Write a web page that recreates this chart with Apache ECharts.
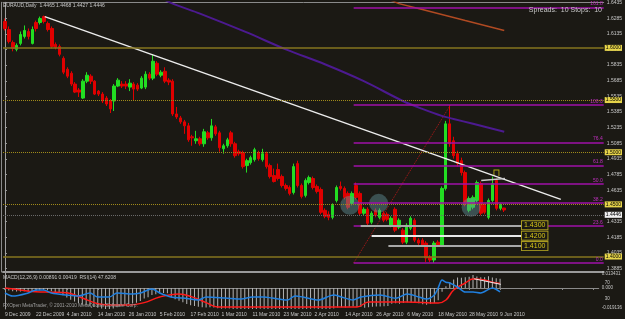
<!DOCTYPE html>
<html>
<head>
<meta charset="utf-8">
<script src="https://cdn.jsdelivr.net/npm/echarts@6/dist/echarts.min.js"></script>
<style>
html,body{margin:0;padding:0;background:#1b1914;}
#chart{width:625px;height:319px;}
</style>
</head>
<body>
<div id="chart"></div>
<script>
var chart = echarts.init(document.getElementById('chart'));

// daily bars EURAUD, [open, close, low, high]
var candles = [
[1.6253,1.6186,1.6167,1.6281],[1.6176,1.6062,1.6043,1.6205],[1.6052,1.5995,1.5967,1.6071],[1.5986,1.6024,1.5967,1.6043],
[1.6043,1.6128,1.6024,1.6157],[1.6110,1.6167,1.6090,1.6215],[1.6157,1.6110,1.6081,1.6186],[1.6043,1.6176,1.6033,1.6205],
[1.6243,1.6186,1.6157,1.6262],[1.6243,1.6281,1.6224,1.6300],[1.6300,1.6253,1.6234,1.6310],[1.6234,1.6176,1.6157,1.6253],
[1.6186,1.6014,1.5995,1.6205],[1.6033,1.6005,1.5986,1.6052],[1.6014,1.5938,1.5919,1.6033],[1.5900,1.5767,1.5748,1.5919],
[1.5795,1.5729,1.5710,1.5814],[1.5757,1.5653,1.5634,1.5776],[1.5653,1.5576,1.5567,1.5672],[1.5596,1.5576,1.5529,1.5615],
[1.5519,1.5681,1.5510,1.5700],[1.5681,1.5738,1.5662,1.5767],[1.5729,1.5681,1.5653,1.5748],[1.5681,1.5557,1.5548,1.5691],
[1.5586,1.5557,1.5538,1.5596],[1.5557,1.5491,1.5472,1.5576],[1.5519,1.5462,1.5443,1.5538],[1.5491,1.5415,1.5376,1.5510],
[1.5491,1.5634,1.5395,1.5653],[1.5634,1.5691,1.5624,1.5710],[1.5653,1.5634,1.5615,1.5681],[1.5653,1.5634,1.5605,1.5681],
[1.5624,1.5662,1.5586,1.5700],[1.5653,1.5605,1.5500,1.5672],[1.5643,1.5605,1.5586,1.5662],[1.5615,1.5710,1.5605,1.5729],
[1.5624,1.5748,1.5605,1.5776],[1.5748,1.5710,1.5691,1.5767],[1.5710,1.5872,1.5691,1.5938],[1.5853,1.5748,1.5729,1.5872],
[1.5738,1.5767,1.5719,1.5786],[1.5776,1.5681,1.5662,1.5814],[1.5691,1.5672,1.5643,1.5710],[1.5681,1.5367,1.5348,1.5700],
[1.5367,1.5338,1.5319,1.5434],[1.5329,1.5291,1.5272,1.5348],[1.5291,1.5253,1.5176,1.5310],[1.5253,1.5119,1.5100,1.5281],
[1.5148,1.5138,1.5062,1.5167],[1.5110,1.5129,1.5081,1.5205],[1.5129,1.5081,1.5062,1.5148],[1.5081,1.5196,1.5052,1.5224],
[1.5186,1.5138,1.5119,1.5205],[1.5138,1.5253,1.5110,1.5319],[1.5243,1.5176,1.5157,1.5262],[1.5186,1.5043,1.5005,1.5205],
[1.5033,1.5062,1.4986,1.5081],[1.5062,1.5119,1.5043,1.5138],[1.5186,1.5081,1.5052,1.5205],[1.5081,1.4967,1.4948,1.5100],
[1.5005,1.4986,1.4967,1.5024],[1.4995,1.4862,1.4843,1.5014],[1.4872,1.4919,1.4805,1.4938],[1.4900,1.4948,1.4881,1.4967],
[1.4929,1.5024,1.4910,1.5043],[1.4995,1.4938,1.4919,1.5014],[1.4929,1.4986,1.4910,1.5033],[1.4986,1.4862,1.4843,1.5005],
[1.4872,1.4767,1.4748,1.4891],[1.4776,1.4719,1.4710,1.4843],[1.4834,1.4748,1.4729,1.4891],[1.4767,1.4681,1.4662,1.4786],
[1.4681,1.4653,1.4633,1.4700],[1.4662,1.4605,1.4586,1.4681],[1.4614,1.4862,1.4595,1.4891],[1.4891,1.4681,1.4662,1.4919],
[1.4681,1.4576,1.4557,1.4700],[1.4586,1.4729,1.4567,1.4748],[1.4710,1.4757,1.4691,1.4776],[1.4748,1.4662,1.4643,1.4767],
[1.4672,1.4624,1.4605,1.4691],[1.4643,1.4424,1.4405,1.4662],[1.4443,1.4386,1.4367,1.4462],[1.4405,1.4376,1.4348,1.4434],
[1.4376,1.4491,1.4357,1.4510],[1.4538,1.4662,1.4519,1.4681],[1.4672,1.4653,1.4633,1.4719],[1.4653,1.4567,1.4548,1.4672],
[1.4605,1.4472,1.4453,1.4624],[1.4510,1.4605,1.4491,1.4624],[1.4681,1.4567,1.4548,1.4710],[1.4605,1.4415,1.4395,1.4624],
[1.4415,1.4453,1.4395,1.4472],[1.4453,1.4319,1.4300,1.4472],[1.4329,1.4415,1.4310,1.4434],[1.4443,1.4395,1.4376,1.4462],
[1.4376,1.4443,1.4357,1.4462],[1.4415,1.4348,1.4329,1.4434],[1.4405,1.4357,1.4338,1.4424],[1.4300,1.4367,1.4281,1.4386],
[1.4453,1.4253,1.4234,1.4472],[1.4281,1.4348,1.4262,1.4367],[1.4253,1.4138,1.4119,1.4272],[1.4138,1.4300,1.4119,1.4319],
[1.4272,1.4367,1.4253,1.4386],[1.4348,1.4157,1.4138,1.4367],[1.4157,1.4129,1.4110,1.4176],[1.4157,1.4110,1.4091,1.4176],
[1.4129,1.3986,1.3948,1.4148],[1.3995,1.3967,1.3948,1.4014],[1.3967,1.4129,1.3938,1.4148],[1.4138,1.4110,1.4091,1.4157],
[1.4110,1.4653,1.4091,1.4672],[1.4653,1.5272,1.4633,1.5300],[1.5272,1.5081,1.5052,1.5453],[1.5110,1.4967,1.4938,1.5148],
[1.4986,1.4891,1.4862,1.5014],[1.4919,1.4805,1.4776,1.4948],[1.4805,1.4510,1.4481,1.4824],[1.4443,1.4557,1.4424,1.4576],
[1.4472,1.4567,1.4453,1.4586],[1.4538,1.4710,1.4519,1.4729],[1.4700,1.4415,1.4395,1.4719],[1.4491,1.4424,1.4405,1.4510],
[1.4376,1.4538,1.4357,1.4557],[1.4538,1.4700,1.4519,1.4767],[1.4729,1.4462,1.4443,1.4748],[1.4462,1.4491,1.4443,1.4510],
[1.4465,1.4446,1.4427,1.4468]
];

// MACD(12,26,9) main, one per bar
var macdMain = [
-0.0020,-0.0024,-0.0030,-0.0034,-0.0034,-0.0032,-0.0032,-0.0030,-0.0026,-0.0022,
-0.0020,-0.0022,-0.0030,-0.0038,-0.0048,-0.0070,-0.0092,-0.0112,-0.0130,-0.0146,
-0.0160,-0.0166,-0.0172,-0.0182,-0.0190,-0.0196,-0.0200,-0.0206,-0.0196,-0.0184,
-0.0174,-0.0166,-0.0156,-0.0148,-0.0140,-0.0124,-0.0100,-0.0088,-0.0068,-0.0060,
-0.0052,-0.0048,-0.0050,-0.0092,-0.0108,-0.0122,-0.0136,-0.0152,-0.0164,-0.0172,
-0.0180,-0.0184,-0.0186,-0.0184,-0.0186,-0.0194,-0.0198,-0.0196,-0.0196,-0.0204,
-0.0208,-0.0212,-0.0212,-0.0210,-0.0204,-0.0202,-0.0198,-0.0204,-0.0212,-0.0218,
-0.0220,-0.0222,-0.0226,-0.0228,-0.0216,-0.0214,-0.0216,-0.0208,-0.0200,-0.0198,
-0.0196,-0.0206,-0.0212,-0.0216,-0.0208,-0.0196,-0.0186,-0.0184,-0.0186,-0.0180,
-0.0176,-0.0182,-0.0182,-0.0188,-0.0184,-0.0180,-0.0176,-0.0176,-0.0174,-0.0172,
-0.0150,-0.0146,-0.0150,-0.0144,-0.0136,-0.0140,-0.0144,-0.0146,-0.0156,-0.0160,
-0.0150,-0.0144,-0.0118,-0.0036,0.0016,0.0056,0.0082,0.0100,0.0098,0.0102,
0.0108,0.0124,0.0110,0.0102,0.0104,0.0112,0.0100,0.0094,0.0089
];

// signal line and RSI read at [bar, value]
var signalPts = [[0,0.0000],[4,-0.0019],[8,-0.0036],[12,-0.0040],[16,-0.0045],[20,-0.0096],[24,-0.0150],
  [28,-0.0163],[32,-0.0163],[36,-0.0140],[40,-0.0086],[45,-0.0057],[48,-0.0080],[52,-0.0140],[55,-0.0182],
  [91,-0.0182],[94,-0.0134],[104,-0.0134],[112,-0.0144],[114,-0.0115],[116,-0.0019],[119,0.0048],
  [121,0.0086],[124,0.0077],[126,0.0055],[128,0.0042]];
var rsiPts = [[0,45],[2,37.5],[6,45],[8,52.5],[10,52.5],[12,45],[16,40],[19,37.5],[22,45],[24,35],[27,35],
  [29,45],[33,42.5],[35,45],[38,55],[40,45],[43,35],[46,32.5],[50,27.5],[52,35],[57,32.5],[61,30],[64,35],
  [67,35],[69,32.5],[73,27.5],[75,37.5],[77,35],[81,27.5],[85,40],[87,35],[90,27.5],[92,35],[97,40],
  [101,32],[104,42.5],[107,35],[109,30],[111,40],[112,58],[113,77.5],[114,72],[115,70],[117,60],[119,47.5],
  [121,47.5],[123,45],[126,57.5],[128,47.6]];

var dateLabels = ['9 Dec 2009','22 Dec 2009','4 Jan 2010','14 Jan 2010','26 Jan 2010','5 Feb 2010',
  '17 Feb 2010','1 Mar 2010','11 Mar 2010','23 Mar 2010','2 Apr 2010','14 Apr 2010','26 Apr 2010',
  '6 May 2010','18 May 2010','28 May 2010','9 Jun 2010'];
var priceTicks = [1.3885,1.4035,1.4185,1.4335,1.4485,1.4635,1.4785,1.4935,1.5085,1.5235,1.5385,
  1.5535,1.5685,1.5835,1.5985,1.6135,1.6285,1.6435];

// chart objects
var trendLine = [[10.2,1.6300],[142.5,1.4548]];
var maSlow = [[40,1.6481],[43,1.6424],[50,1.6329],[62,1.6148],[72,1.5986],[82,1.5843],[92,1.5681],
  [102,1.5491],[107,1.5415],[112,1.5348],[115,1.5319],[120,1.5272],[124,1.5234],[128,1.5196]];
var maLong = [[98,1.6472],[101,1.6424],[107,1.6367],[113,1.6310],[118,1.6262],[123,1.6215],[128,1.6167]];
var fibAnchor = [[89.4,1.3938],[114.2,1.5453]];
var fibLevels = [0, 23.6, 38.2, 50.0, 61.8, 76.4, 100.0, 161.8];
var roundLevels = [1.6000, 1.5500, 1.5000, 1.4500, 1.4000];
var supportLevels = [1.4300, 1.4200, 1.4100];
var supportStart = [91.2, 94.0, 98.3];
var supportEnd = 132.3;
var circles = [[88.4,1.4491],[95.8,1.4510],[119.5,1.4472]];
var fractalUp = [[126.0,1.4801]];
var resistLine = [[122.1,1.4729],[128.2,1.4748]];
var divLine = [[121.3,0.0088],[128.2,0.0035]];
var bid = 1.4446;

var SLOTS = 154;
var slots = [];
for (var i = 0; i < SLOTS; i++) slots.push(String(i));

var txt = '#c8c8c8';
var fnt = 'Liberation Sans';

var lo = fibAnchor[0][1], hi = fibAnchor[1][1];
var fibLines = fibLevels.map(function (l) {
	var v = lo + (hi - lo) * l / 100;
	return [{
		coord: [fibAnchor[0][0], v],
		label: { show: true, position: 'insideEndTop', formatter: l.toFixed(1), color: '#c030c0', fontSize: 5, fontFamily: fnt, distance: 1 }
	}, { coord: [SLOTS - 0.5, v] }];
});
var supLines = supportLevels.map(function (v, k) {
	return [{
		coord: [supportStart[k], v],
		lineStyle: { color: k == 1 ? '#e8e8e8' : '#a8a8a8', width: 2, type: 'solid' },
		label: {
			show: true, position: 'end', distance: 1, formatter: v.toFixed(4),
			color: '#d8c818', fontSize: 7, fontFamily: fnt, backgroundColor: '#1b1914',
			borderColor: '#a89a20', borderWidth: 1, padding: [1, 2, 0, 2]
		}
	}, { coord: [supportEnd, v] }];
});
var roundLines = roundLevels.map(function (v, k) {
	var solid = (k == 0 || k == roundLevels.length - 1);
	return {
		yAxis: v,
		lineStyle: solid ? { color: '#86741e', width: 1.5, type: 'solid' } : { color: '#a08a1a', width: 1, type: 'dotted' },
		label: { show: true, position: 'end', distance: 1, formatter: v.toFixed(4), color: '#000', backgroundColor: '#e6d44a', fontSize: 5, fontFamily: fnt, padding: [1, 1, 0, 1] }
	};
});
roundLines.push({
	yAxis: bid,
	lineStyle: { color: '#6a6a6a', width: 1, type: 'dotted' },
	label: { show: true, position: 'end', distance: 1, formatter: bid.toFixed(4), color: '#000', backgroundColor: '#f0f0f0', fontSize: 5, fontFamily: fnt, padding: [1, 1, 0, 1] }
});

var option = {
	backgroundColor: '#1b1914',
	animation: false,
	title: [
		{ text: 'EURAUD,Daily  1.4465 1.4468 1.4427 1.4446', left: 3, top: 3, padding: 0, textStyle: { color: txt, fontSize: 5, fontWeight: 'normal', fontFamily: fnt } },
		{ text: 'Spreads:  10 Stops:  10', right: 23, top: 7, padding: 0, textStyle: { color: '#c8c8c8', fontSize: 7, fontWeight: 'normal', fontFamily: fnt } },
		{ text: 'MACD(12,26,9) 0.00891 0.00419  RSI(14) 47.6208', left: 3, top: 275, padding: 0, textStyle: { color: txt, fontSize: 5, fontWeight: 'normal', fontFamily: fnt } },
		{ text: 'FXOpen MetaTrader, \u00a9 2001-2010 MetaQuotes Software Corp.', left: 3, top: 303, padding: 0, textStyle: { color: '#a0a0a0', fontSize: 4.8, fontWeight: 'normal', fontFamily: fnt } }
	],
	grid: [
		{ left: 3, top: 1, width: 603, height: 271 },
		{ left: 3, top: 273, width: 603, height: 36 }
	],
	xAxis: [
		{ type: 'category', gridIndex: 0, data: slots, boundaryGap: true,
		  axisLine: { lineStyle: { color: '#9a9a9a', width: 2 } }, axisTick: { show: false }, axisLabel: { show: false }, splitLine: { show: false } },
		{ type: 'value', gridIndex: 0, min: -0.5, max: SLOTS - 0.5, position: 'top',
		  axisLine: { show: true, onZero: false, lineStyle: { color: '#8a8a8a' } }, axisTick: { show: false }, axisLabel: { show: false }, splitLine: { show: false } },
		{ type: 'category', gridIndex: 1, data: slots, boundaryGap: true,
		  axisLine: { lineStyle: { color: '#8a8a8a' } },
		  axisTick: { show: true, interval: 7, alignWithLabel: true, length: 2, lineStyle: { color: '#8a8a8a' } },
		  axisLabel: { interval: 7, showMinLabel: true, color: txt, fontSize: 5, fontFamily: fnt, margin: 3, align: 'left',
		    formatter: function (v, idx) { return dateLabels[idx / 8] || ''; } },
		  splitLine: { show: false } },
		{ type: 'value', gridIndex: 1, min: -0.5, max: SLOTS - 0.5, show: false }
	],
	yAxis: [
		{ type: 'value', gridIndex: 0, position: 'right', min: 1.3852, max: 1.6437, scale: true,
		  axisLine: { show: true, lineStyle: { color: '#a0a0a0' } },
		  axisTick: { show: true, length: 2, customValues: priceTicks, lineStyle: { color: '#a0a0a0' } },
		  axisLabel: { customValues: priceTicks, color: txt, fontSize: 5, fontFamily: fnt, margin: 3, formatter: function (v) { return v.toFixed(4); } },
		  splitLine: { show: false } },
		{ type: 'value', gridIndex: 0, position: 'left', offset: 2, min: 1.3852, max: 1.6437, scale: true,
		  axisLine: { show: true, lineStyle: { color: '#8a8a8a' } }, axisTick: { show: false }, axisLabel: { show: false }, splitLine: { show: false } },
		{ type: 'value', gridIndex: 1, position: 'right', min: -0.0201, max: 0.01436,
		  axisLine: { show: true, lineStyle: { color: '#a0a0a0' } }, axisTick: { show: false },
		  axisLabel: { customValues: [0.013431, 0, -0.019136], color: txt, fontSize: 4.5, fontFamily: fnt, margin: 3,
		    formatter: function (v) { return v == 0 ? '0.000' : v.toFixed(6); } },
		  splitLine: { show: false } },
		{ type: 'value', gridIndex: 1, position: 'right', min: 5, max: 95,
		  axisLine: { show: false }, axisTick: { show: false },
		  axisLabel: { customValues: [70, 30], color: txt, fontSize: 4.5, fontFamily: fnt, margin: 6 },
		  splitLine: { show: false } }
	],
	series: [
		{
			name: 'EURAUD', type: 'candlestick', xAxisIndex: 0, yAxisIndex: 0, data: candles, barWidth: 3,
			itemStyle: { color: '#22dd22', color0: '#e00000', borderColor: '#22dd22', borderColor0: '#e00000', borderWidth: 1 },
			markLine: { silent: true, symbol: ['none', 'none'], animation: false, data: roundLines }
		},
		{
			name: 'fibo', type: 'line', xAxisIndex: 1, yAxisIndex: 0, data: fibAnchor, symbol: 'none',
			lineStyle: { color: '#b01818', width: 1, type: 'dotted' },
			markLine: { silent: true, symbol: ['none', 'none'], animation: false,
			  lineStyle: { color: '#a010a8', width: 1.5, type: 'solid' }, data: fibLines }
		},
		{
			name: 'trend', type: 'line', xAxisIndex: 1, yAxisIndex: 0, data: trendLine, symbol: 'none',
			lineStyle: { color: '#ececec', width: 1.5 },
			markLine: { silent: true, symbol: ['none', 'none'], animation: false, data: supLines }
		},
		{ name: 'ma1', type: 'line', xAxisIndex: 1, yAxisIndex: 0, data: maSlow, symbol: 'none', smooth: 0.3, lineStyle: { color: '#4c1a90', width: 2 } },
		{ name: 'ma2', type: 'line', xAxisIndex: 1, yAxisIndex: 0, data: maLong, symbol: 'none', lineStyle: { color: '#b04a22', width: 1.5 } },
		{ name: 'res', type: 'line', xAxisIndex: 1, yAxisIndex: 0, data: resistLine, symbol: 'none', lineStyle: { color: '#c8c8c8', width: 1.5 } },
		{ name: 'marks', type: 'scatter', xAxisIndex: 1, yAxisIndex: 0, data: circles, symbolSize: 19,
		  itemStyle: { color: 'rgba(100,150,160,0.55)' } },
		{ name: 'fractal', type: 'scatter', xAxisIndex: 1, yAxisIndex: 0, data: fractalUp, symbolSize: [5, 6],
		  symbol: 'path://M0,10 L0,0 L10,0 L10,10', itemStyle: { color: 'none', borderColor: '#d8c818', borderWidth: 1 } },
		{ name: 'MACD', type: 'bar', xAxisIndex: 2, yAxisIndex: 2, data: macdMain, barWidth: 1,
		  itemStyle: { color: '#b4b4b4' } },
		{ name: 'Signal', type: 'line', xAxisIndex: 3, yAxisIndex: 2, data: signalPts, symbol: 'none', smooth: 0.4,
		  lineStyle: { color: '#ff1a1a', width: 1.5 } },
		{ name: 'RSI', type: 'line', xAxisIndex: 3, yAxisIndex: 3, data: rsiPts, symbol: 'none', smooth: 0.3,
		  lineStyle: { color: '#2080e0', width: 1.5 } },
		{ name: 'div', type: 'line', xAxisIndex: 3, yAxisIndex: 2, data: divLine, symbol: 'none',
		  lineStyle: { color: '#e8e8e8', width: 1 } }
	]
};
chart.setOption(option);
</script>
</body>
</html>
